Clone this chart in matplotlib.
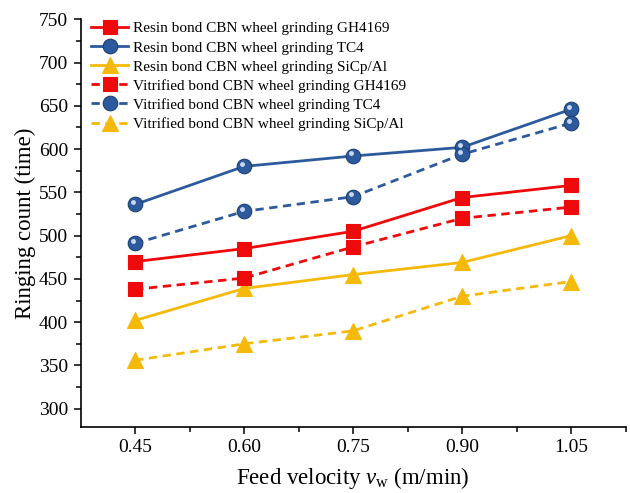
import numpy as np
import matplotlib
matplotlib.use('Agg')
import matplotlib.pyplot as plt
from matplotlib.transforms import offset_copy

plt.rcParams['font.family'] = ['Liberation Serif', 'DejaVu Serif']
plt.rcParams['mathtext.fontset'] = 'custom'
plt.rcParams['mathtext.it'] = 'Liberation Serif:italic'
plt.rcParams['mathtext.rm'] = 'Liberation Serif'

# feed velocity (m/min)
feed = [0.45, 0.60, 0.75, 0.90, 1.05]

# ringing count (time)
resin_gh4169 = [470, 485, 505, 544, 558]
resin_tc4 = [536, 580, 592, 602, 646]
resin_sicp = [402, 439, 455, 469, 500]
vit_gh4169 = [438, 451, 487, 520, 533]
vit_tc4 = [491, 528, 545, 594, 630]
vit_sicp = [356, 375, 390, 430, 447]

labels = ['Resin bond CBN wheel grinding GH4169',
          'Resin bond CBN wheel grinding TC4',
          'Resin bond CBN wheel grinding SiCp/Al',
          'Vitrified bond CBN wheel grinding GH4169',
          'Vitrified bond CBN wheel grinding TC4',
          'Vitrified bond CBN wheel grinding SiCp/Al']

red = '#ee0a0a'
blue = '#2c5a9c'
yellow = '#f5b90a'

fig = plt.figure(figsize=(6.3, 4.93), dpi=100)
ax = fig.add_axes([0.128, 0.134, 0.865, 0.827])

dash = (0, (3.0, 2.0))
lw = 2.0
ms = 10.5

series = [
    (resin_gh4169, red, 's', '-'),
    (resin_tc4, blue, 'o', '-'),
    (resin_sicp, yellow, '^', '-'),
    (vit_gh4169, red, 's', dash),
    (vit_tc4, blue, 'o', dash),
    (vit_sicp, yellow, '^', dash),
]

handles = []
for vals, c, m, ls in series:
    size = ms + 1 if m == '^' else ms
    ln, = ax.plot(feed, vals, color=c, ls=ls, lw=lw, marker=m, ms=size,
                  mfc=c, mec=c if m != 'o' else '#1d3f73', mew=0.8, zorder=3)
    if m == 'o':
        # little highlight to mimic the shaded ball markers
        tr = offset_copy(ax.transData, fig=fig, x=-1.5, y=1.8, units='points')
        ax.plot(feed, vals, ls='none', marker='o', ms=3.5,
                mfc='#c9d8ee', mec='none', transform=tr, zorder=4)
    handles.append(ln)

ax.set_xlim(0.375, 1.125)
ax.set_ylim(279, 750)
ax.set_xticks(feed)
ax.set_xticklabels(['%.2f' % v for v in feed])
ax.set_xticks(np.arange(0.525, 1.13, 0.15), minor=True)
ax.set_yticks(np.arange(300, 751, 50))
ax.set_yticks(np.arange(325, 751, 50), minor=True)

for s in ['top', 'right']:
    ax.spines[s].set_visible(False)
for s in ['left', 'bottom']:
    ax.spines[s].set_linewidth(1.2)
ax.tick_params(axis='both', which='major', direction='out', length=5, width=1.1,
               labelsize=14, colors='black', pad=4)
ax.tick_params(axis='both', which='minor', direction='out', length=3.5, width=1.1)

ax.set_xlabel('Feed velocity $v_\\mathrm{w}$ (m/min)', fontsize=16.5, labelpad=6)
ax.set_ylabel('Ringing count (time)', fontsize=16.5, labelpad=2)

ax.legend(handles, labels, loc='upper left', bbox_to_anchor=(0.0, 1.02),
          frameon=False, fontsize=11, handlelength=2.4, handletextpad=0.3,
          labelspacing=0.35, borderaxespad=0.3)

fig.savefig('out.png', dpi=100)
